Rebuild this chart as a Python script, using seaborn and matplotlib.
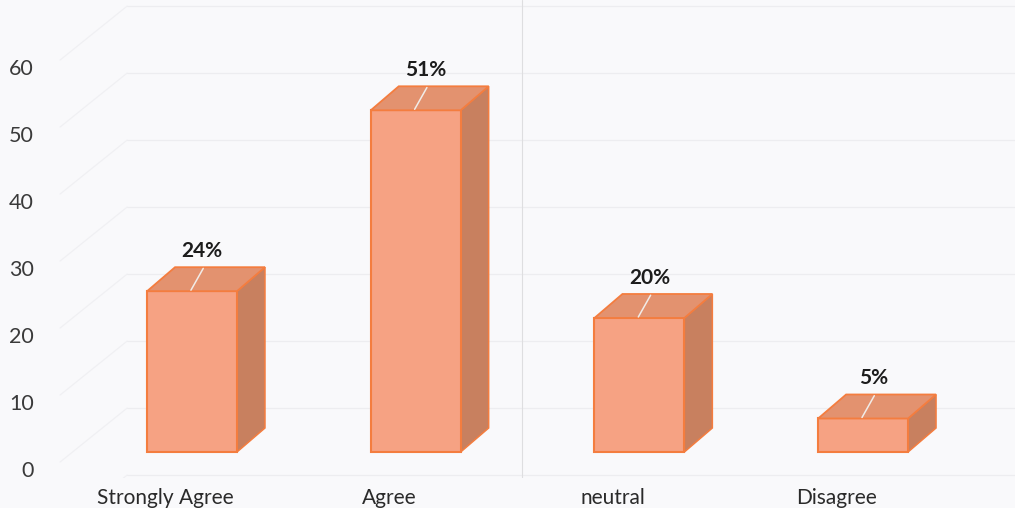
import matplotlib
matplotlib.use("Agg")
import matplotlib.pyplot as plt
import seaborn as sns
import pandas as pd
from matplotlib.patches import Polygon

# Survey responses (percent of respondents)
categories = ["Strongly Agree", "Agree", "neutral", "Disagree"]
values = [24, 51, 20, 5]
value_labels = ["24%", "51%", "20%", "5%"]
y_ticks = [0, 10, 20, 30, 40, 50, 60]

FRONT = "#f6a283"
TOP = "#e3926f"
SIDE = "#c8805f"
EDGE = "#f47d3f"
BG = "#f9f9fb"
GRID = "#ededf0"

sns.set_theme(style="white")
plt.rcParams["font.family"] = ["Lato", "DejaVu Sans"]

fig = plt.figure(figsize=(10.15, 5.08), dpi=100, facecolor=BG)
ax = fig.add_axes([48 / 1015, 30 / 508, 967 / 1015, 478 / 508])
ax.set_facecolor(BG)

df = pd.DataFrame({"category": categories, "value": values})
sns.barplot(data=df, x="category", y="value", color=FRONT, saturation=1,
            width=0.402, errorbar=None, edgecolor=EDGE, linewidth=1.5,
            zorder=3, ax=ax)

# pseudo-3D geometry: floor offset of the front faces and depth of the boxes
base = 2.54
dx, dy = 0.125, 3.58

x_left, x_right = -0.644, 3.679
ax.set_xlim(x_left, x_right)
ax.set_ylim(-1.343, 70.0)

# faint back-wall gridlines with side-wall diagonals
x_wall = -0.29
for g in range(0, 80, 10):
    yg = g - 0.9
    ax.plot([x_wall, x_right], [yg, yg], color=GRID, lw=0.9, zorder=1)
    ax.plot([x_wall, -0.59], [yg, yg - 8.06], color="#f0f0f3", lw=0.9, zorder=1)
ax.axvline(1.475, color="#dedee0", lw=0.8, zorder=1)

for p, lab in zip(ax.patches, value_labels):
    p.set_y(base)
    x0 = p.get_x()
    x1 = x0 + p.get_width()
    top = base + p.get_height()
    xc = (x0 + x1) / 2
    side = Polygon([(x1, base), (x1, top), (x1 + dx, top + dy), (x1 + dx, base + dy)],
                   closed=True, facecolor=SIDE, edgecolor=EDGE, lw=1.1, zorder=2.9)
    lid = Polygon([(x0, top), (x0 + dx, top + dy), (x1 + dx, top + dy), (x1, top)],
                  closed=True, facecolor=TOP, edgecolor=EDGE, lw=1.3, zorder=3.1)
    ax.add_patch(side)
    ax.add_patch(lid)
    ax.plot([xc + 0.05, xc - 0.005], [top + 3.4, top + 0.15],
            color="#f1ece8", lw=1.1, zorder=3.2)
    ax.text(xc + 0.045, top + 5.97, lab, ha="center", va="center",
            fontsize=15, fontweight="bold", color="#1c1c1c", zorder=4)

ax.set_yticks(y_ticks)
ax.set_xticks([i - 0.12 for i in range(len(categories))])
ax.set_xticklabels(categories)
ax.tick_params(axis="y", length=0, pad=10, labelsize=15.5, labelcolor="#3a3a3a")
ax.tick_params(axis="x", length=0, pad=7, labelsize=15, labelcolor="#2a2a2a")
ax.set_xlabel("")
ax.set_ylabel("")
for s in ax.spines.values():
    s.set_visible(False)

fig.savefig("out.png", dpi=100, facecolor=BG)
